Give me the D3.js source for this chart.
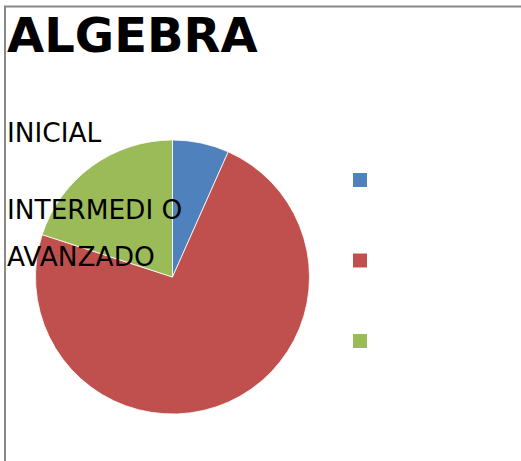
<!DOCTYPE html>
<html>
<head>
<meta charset="utf-8">
<script src="https://cdn.jsdelivr.net/npm/d3@7"></script>
<style>
  body { margin: 0; background: #fff; }
  text { font-family: "DejaVu Sans", sans-serif; }
</style>
</head>
<body>
<div class="pie-chart"></div>
<script>
// data
const categories = ["INICIAL", "INTERMEDIO", "AVANZADO"];
const values = [1, 11, 3];
const colors = ["#4F81BD", "#C0504D", "#9BBB59"];
// the side labels as they appear (wrapped text)
const labelLines = ["INICIAL", "INTERMEDI O", "AVANZADO"];

const width = 521, height = 461;

const svg = d3.select(".pie-chart")
  .append("svg")
  .attr("width", width)
  .attr("height", height);

// chart frame (runs off the right and bottom)
svg.append("rect")
  .attr("x", 5)
  .attr("y", 6.5)
  .attr("width", 530)
  .attr("height", 470)
  .attr("fill", "none")
  .attr("stroke", "#888")
  .attr("stroke-width", 2);

// title
svg.append("text")
  .attr("x", 7)
  .attr("y", 52)
  .style("font-size", "48px")
  .style("font-weight", "bold")
  .text("ALGEBRA");

// pie
const radius = 137;
const g = svg.append("g")
  .attr("transform", "translate(172.5, 277)");

const pie = d3.pie().sort(null).value(d => d);
const arc = d3.arc().innerRadius(0).outerRadius(radius);

g.selectAll("path")
  .data(pie(values))
  .join("path")
  .attr("d", arc)
  .attr("fill", (d, i) => colors[i])
  .attr("stroke", "#fff")
  .attr("stroke-width", 0.8);

// category labels on the left
const labelY = [142, 219, 266];
svg.selectAll(".cat-label")
  .data(labelLines)
  .join("text")
  .attr("class", "cat-label")
  .attr("x", 7)
  .attr("y", (d, i) => labelY[i])
  .style("font-size", "26.4px")
  .attr("fill", "#000")
  .text(d => d);

// legend keys (no text)
const legendY = d3.scalePoint()
  .domain(categories)
  .range([173, 334]);

svg.selectAll(".legend-key")
  .data(categories)
  .join("rect")
  .attr("class", "legend-key")
  .attr("x", 353)
  .attr("y", d => legendY(d))
  .attr("width", 14)
  .attr("height", 14)
  .attr("fill", (d, i) => colors[i]);
</script>
</body>
</html>
